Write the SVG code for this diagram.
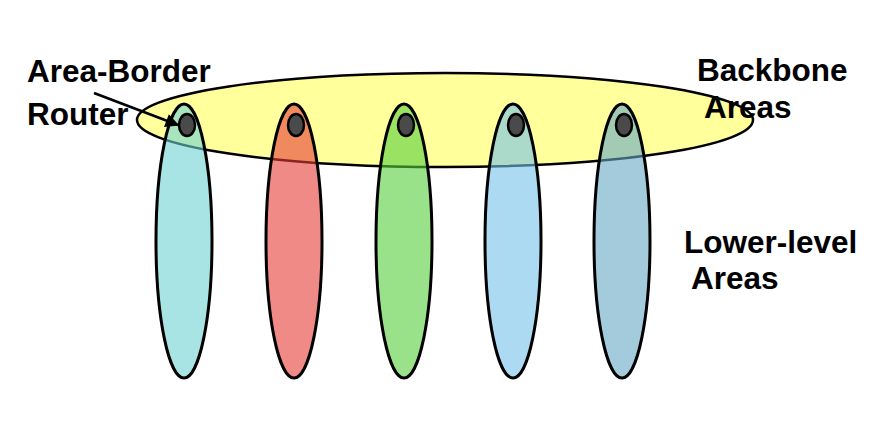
<svg xmlns="http://www.w3.org/2000/svg" width="892" height="430" viewBox="0 0 892 430">
<defs>
<style>
.lbl{font-family:"Liberation Sans",Arial,sans-serif;font-weight:bold;font-size:31.5px;fill:#000}
.area{stroke:#000;stroke-width:3;fill-opacity:0.6}
.dot{fill:#4a4a4a;stroke:#000;stroke-width:2.5}
.conn{stroke:#000;stroke-width:2.5;fill:none}
</style>
<marker id="ah" viewBox="0 0 10 10" refX="9" refY="5" markerWidth="6" markerHeight="5.5" orient="auto" markerUnits="strokeWidth">
<path d="M0,0 L10,5 L0,10 z" fill="#000"/>
</marker>
</defs>
<rect width="892" height="430" fill="#fff"/>
<g id="backbone">
<ellipse cx="445" cy="120" rx="308" ry="47" fill="#ffff9c" stroke="#000" stroke-width="2.5"/>
</g>
<g id="area1"><ellipse class="area" cx="184" cy="241" rx="28" ry="137" fill="#6ed2d2"/><ellipse class="dot" cx="187" cy="125" rx="8" ry="11"/></g>
<g id="area2"><ellipse class="area" cx="294" cy="241" rx="28" ry="137" fill="#e63c35"/><ellipse class="dot" cx="296" cy="125" rx="8" ry="11"/></g>
<g id="area3"><ellipse class="area" cx="404" cy="241" rx="28" ry="137" fill="#57cf3c"/><ellipse class="dot" cx="406" cy="125" rx="8" ry="11"/></g>
<g id="area4"><ellipse class="area" cx="513" cy="241" rx="28" ry="137" fill="#75c1e9"/><ellipse class="dot" cx="516" cy="125" rx="8" ry="11"/></g>
<g id="area5"><ellipse class="area" cx="622" cy="241" rx="28" ry="137" fill="#66a8c5"/><ellipse class="dot" cx="624" cy="125" rx="8" ry="11"/></g>
<g id="connectors">
<line class="conn" x1="94" y1="93" x2="178" y2="125" marker-end="url(#ah)"/>
</g>
<g id="labels">
<text class="lbl" x="27" y="82">Area-Border</text>
<text class="lbl" x="27" y="125">Router</text>
<text class="lbl" x="697" y="81">Backbone</text>
<text class="lbl" x="704" y="118">Areas</text>
<text class="lbl" x="684" y="253">Lower-level</text>
<text class="lbl" x="691" y="289">Areas</text>
</g>
</svg>
